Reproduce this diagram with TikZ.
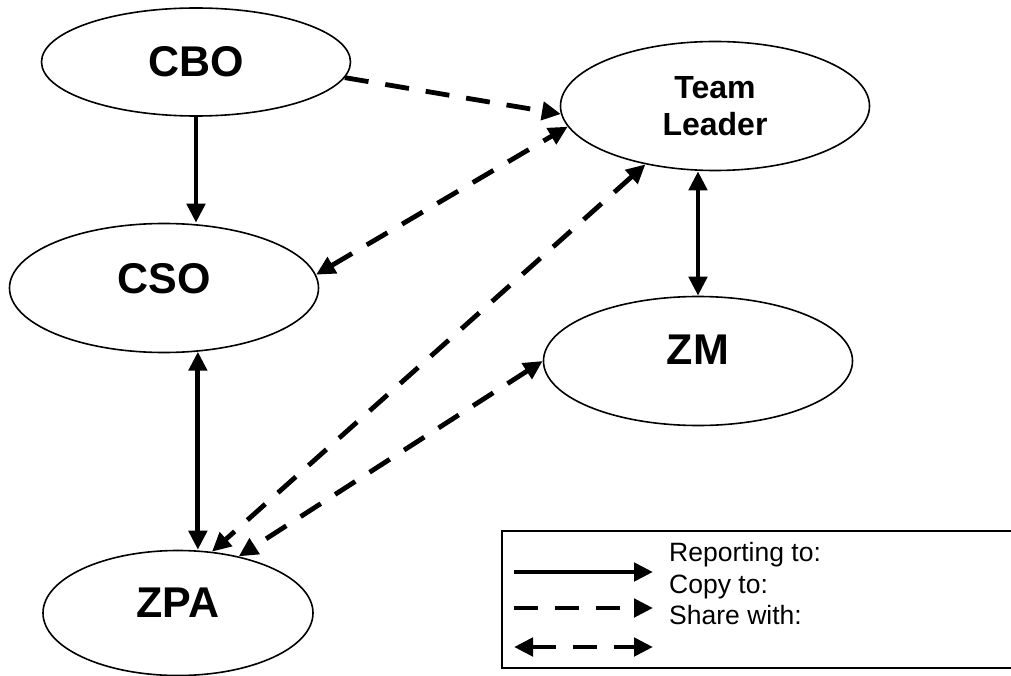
\documentclass[tikz,border=0pt]{standalone}
\usepackage{fontspec}
\setmainfont{Liberation Sans}
\usetikzlibrary{arrows.meta,shapes.geometric}
\begin{document}
\begin{tikzpicture}[x=1pt,y=-1pt,>={Triangle[length=19pt,width=18pt]},
  every node/.style={font=\bfseries\fontsize{43}{48}\selectfont},
  role/.style={ellipse,draw,line width=1.6pt,inner sep=0pt,minimum width=309pt,minimum height=129pt},
  legtext/.style={font=\fontsize{26.5}{30}\selectfont,anchor=base west,inner sep=0pt},
  report/.style={line width=4.8pt},
  copyto/.style={line width=4.8pt,dash pattern=on 24pt off 17pt}]
\useasboundingbox (0,0) rectangle (1011,676);
\node[role,minimum height=108pt] (CBO) at (196,62) {CBO};
\node[role,align=center,font=\bfseries\fontsize{32}{37}\selectfont] (TL) at (715,106) {Team\\Leader};
\node[role,text depth=20pt] (CSO) at (164,288) {CSO};
\node[role,text depth=22pt] (ZM) at (698,361) {ZM};
\node[role,minimum width=270pt,minimum height=125pt,text depth=20pt] (ZPA) at (178,613) {ZPA};
\draw[report,->] (CBO.south) -- (CBO.south |- CSO.north);
\draw[report,<->] (CSO.-62) -- (CSO.-62 |- ZPA.north);
\draw[report,<->] (ZM.north) -- (ZM.north |- TL.south);
\draw[copyto,->] (CBO.-6) -- (TL.183);
\draw[copyto,<->] (CSO.5) -- (TL.188);
\draw[copyto,<->] (TL.220) -- (ZPA.61);
\draw[copyto,<->] (ZM.west) -- (ZPA.43);
% legend
\draw[line width=2pt] (1040,531) -- (502,531) -- (502,668) -- (1040,668);
\coordinate (r1) at (514,572); \coordinate (r2) at (653,572);
\coordinate (c1) at (514,608); \coordinate (c2) at (653,608);
\coordinate (s1) at (514,647); \coordinate (s2) at (653,647);
\draw[report,->] (r1) -- (r2);
\draw[copyto,->] (c1) -- (c2);
\draw[copyto,<->] (s1) -- (s2);
\node[legtext] (rep) at (669,561) {Reporting to:};
\node[legtext] (cpy) at (669,593) {Copy to:};
\node[legtext] (shr) at (669,624) {Share with:};
\end{tikzpicture}
\end{document}
